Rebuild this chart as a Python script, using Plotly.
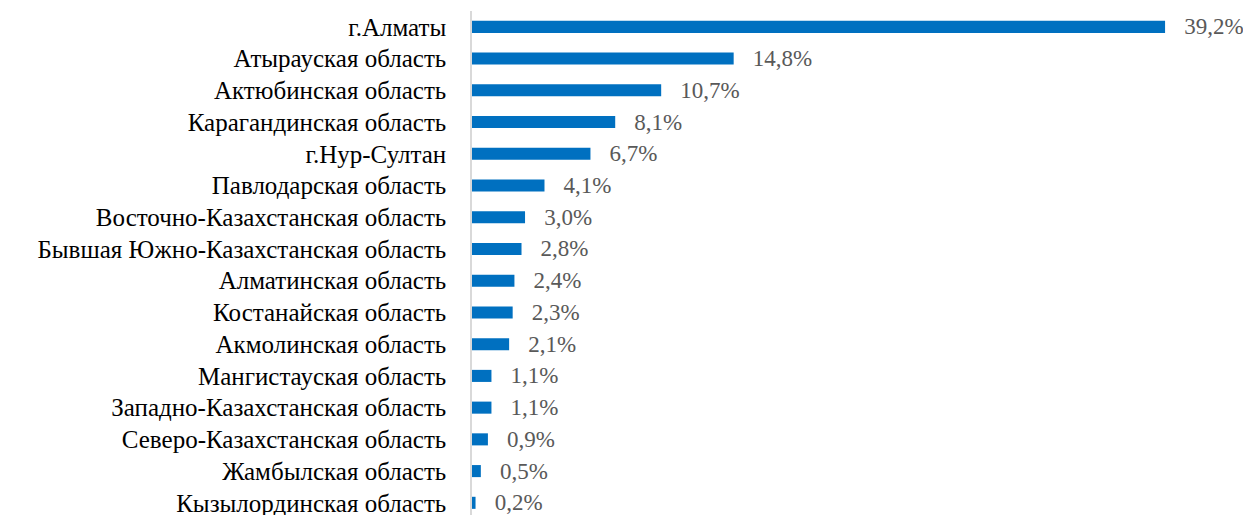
import plotly.graph_objects as go

regions = [
    "г.Алматы",
    "Атырауская область",
    "Актюбинская область",
    "Карагандинская область",
    "г.Нур-Султан",
    "Павлодарская область",
    "Восточно-Казахстанская область",
    "Бывшая Южно-Казахстанская область",
    "Алматинская область",
    "Костанайская область",
    "Акмолинская область",
    "Мангистауская область",
    "Западно-Казахстанская область",
    "Северо-Казахстанская область",
    "Жамбылская область",
    "Кызылординская область",
]
shares = [39.2, 14.8, 10.7, 8.1, 6.7, 4.1, 3.0, 2.8, 2.4, 2.3, 2.1, 1.1, 1.1, 0.9, 0.5, 0.2]
labels = ["  \u2009" + f"{v:.1f}".replace(".", ",") + "%" for v in shares]

serif = "Liberation Serif"

fig = go.Figure()

fig.add_trace(go.Bar(
    x=shares,
    y=regions,
    orientation="h",
    marker=dict(color="#0070C0", line=dict(width=0)),
    width=0.38,
    text=labels,
    textposition="outside",
    constraintext="none",
    cliponaxis=False,
    textfont=dict(family=serif, size=23, color="#595959"),
    hoverinfo="skip",
))

# page body has an 8px margin, so the figure is shifted by that much
fig.update_layout(
    width=1243,
    height=511,
    margin=dict(l=464, r=0, t=3, b=0),
    paper_bgcolor="white",
    plot_bgcolor="white",
    showlegend=False,
    font=dict(family=serif, size=25, color="black"),
)

fig.update_xaxes(range=[0, 44.06], visible=False, showgrid=False, zeroline=False)
fig.update_yaxes(
    type="category",
    categoryorder="array",
    categoryarray=regions,
    range=[15.51, -0.5],
    showgrid=False,
    showline=True,
    linecolor="#D9D9D9",
    linewidth=1.5,
    ticks="",
    ticklabelstandoff=19,
    tickfont=dict(family=serif, size=25, color="black"),
    automargin=False,
)

fig.write_html("out.html")
